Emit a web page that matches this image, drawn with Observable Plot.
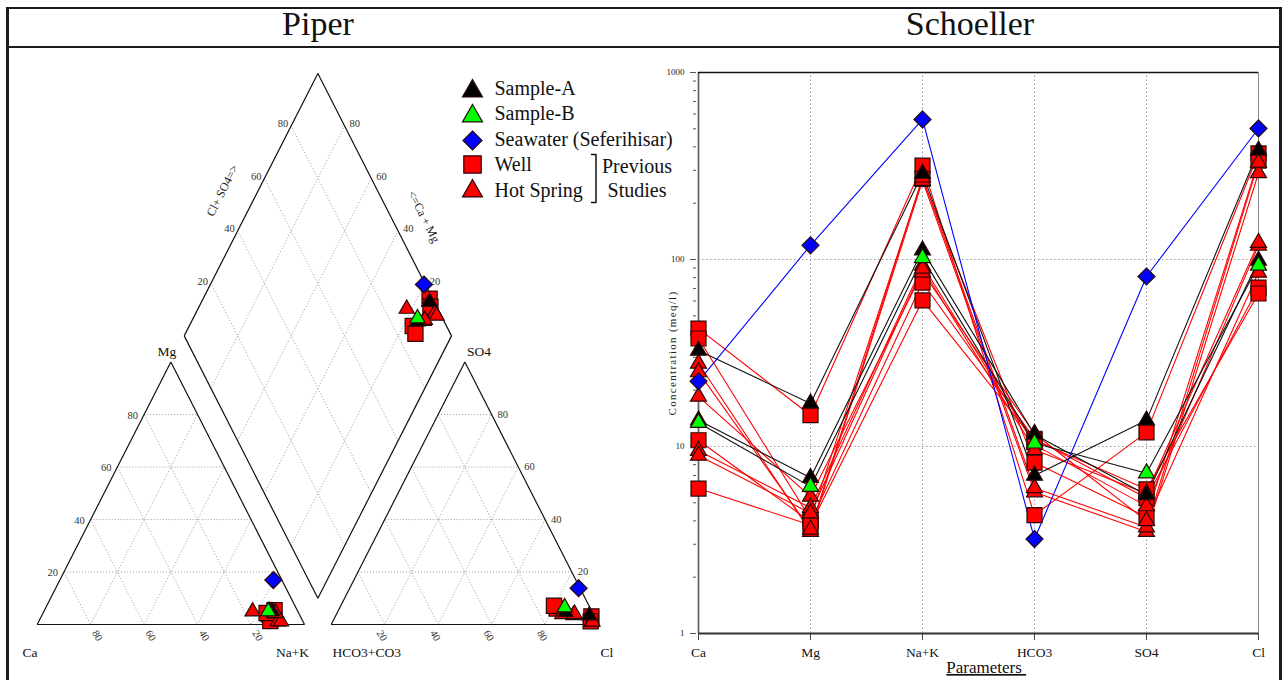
<!DOCTYPE html>
<html>
<head>
<meta charset="utf-8">
<script src="https://cdn.jsdelivr.net/npm/d3@7"></script>
<script src="https://cdn.jsdelivr.net/npm/@observablehq/plot@0.6"></script>
<style>
html, body { margin: 0; padding: 0; background: #fff; width: 1288px; height: 680px; overflow: hidden; }
.bar { position: absolute; background: #1a1a1a; }
.title { position: absolute; font-family: "Liberation Serif", "Times New Roman", serif; font-size: 34px; line-height: 34px; white-space: nowrap; transform: translateX(-50%); color: #111; }
#piper, #schoeller { position: absolute; top: 0; }
#piper { left: 0; }
#schoeller { left: 640px; }
</style>
</head>
<body>
<div class="bar" style="left:6px;top:7px;width:1276px;height:2px"></div>
<div class="bar" style="left:6px;top:46px;width:1276px;height:2px"></div>
<div class="bar" style="left:6px;top:7px;width:3px;height:673px"></div>
<div class="bar" style="left:1279px;top:7px;width:3px;height:673px"></div>
<div class="title" style="left:318px;top:7px">Piper</div>
<div class="title" style="left:970px;top:7px">Schoeller</div>
<div id="piper"></div>
<div id="schoeller"></div>
<script>
// ---------------- DATA (meq/l) ----------------
const parameters = ["Ca", "Mg", "Na+K", "HCO3", "SO4", "Cl"];
const seriesNames = ["Sample-A", "Sample-B", "Seawater (Seferihisar)", "Well", "Hot Spring"];
const sampleA = [
  [32.6, 17.0, 288, 7.0, 13.8, 383],
  [13.8, 6.8, 112, 11.6, 5.5, 98.8]
];
const sampleB = [
  [13.4, 6.1, 102, 10.4, 7.2, 92.9]
];
const seawater = [
  [22.3, 119, 561, 3.2, 81.1, 502]
];
const wells = [
  [42.7, 14.7, 318, 4.3, 11.9, 369],
  [37.8, 4.1, 270, 8.2, 4.2, 338],
  [10.8, 3.95, 75.3, 11.0, 5.3, 70.8],
  [5.96, 3.8, 60.4, 10.8, 5.9, 65.8]
];
const hotSprings = [
  [27.8, 3.5, 264, 5.7, 3.5, 290],
  [25.0, 3.6, 275, 6.0, 3.7, 330],
  [18.5, 5.4, 85.2, 11.7, 4.0, 85.2],
  [9.5, 4.7, 92.9, 10.2, 4.8, 119],
  [8.95, 4.4, 89.5, 9.6, 5.6, 123]
];
const gridPercents = [20, 40, 60, 80];
const majorTicks = [1, 10, 100, 1000];
const bracketWords = ["Previous", "Studies"];
const piperCorners = {left: ["Ca", "Mg", "Na+K"], right: ["HCO3+CO3", "SO4", "Cl"]};
const diamondTitles = ["Cl+ SO4=>", "<=Ca + Mg"];
const schoellerLabels = {x: "Parameters\u00a0", y: "Concentration (meq/l)"};

// ---------------- STYLE ----------------
const FONT = "Liberation Serif, Times New Roman, serif";
const groups = [
  {name: seriesNames[0], rows: sampleA, fill: "#000000", line: "#111111", shape: "triangle"},
  {name: seriesNames[1], rows: sampleB, fill: "#00ff00", line: "#111111", shape: "triangle"},
  {name: seriesNames[2], rows: seawater, fill: "#0000ff", line: "#0000ff", shape: "diamond"},
  {name: seriesNames[3], rows: wells, fill: "#ff0000", line: "#ff0000", shape: "square"},
  {name: seriesNames[4], rows: hotSprings, fill: "#ff0000", line: "#ff0000", shape: "triangle"}
];
const drawOrder = [3, 4, 0, 1, 2];
const lineOrder = [3, 4, 0, 1, 2];
const rFrom = s => Math.sqrt(s / Math.PI);
const SYM = {
  triangle: {draw(ctx, size) { const r = rFrom(size), h = 1.75 * r; ctx.moveTo(0, -2 * h / 3); ctx.lineTo(r, h / 3); ctx.lineTo(-r, h / 3); ctx.closePath(); }},
  square: {draw(ctx, size) { const r = rFrom(size); ctx.moveTo(-r, -r); ctx.lineTo(r, -r); ctx.lineTo(r, r); ctx.lineTo(-r, r); ctx.closePath(); }},
  diamond: {draw(ctx, size) { const r = rFrom(size); ctx.moveTo(0, -r); ctx.lineTo(r, 0); ctx.lineTo(0, r); ctx.lineTo(-r, 0); ctx.closePath(); }}
};
const markerSize = {triangle: 8, square: 7.5, diamond: 8.5};
const piperSize = {triangle: 7.6, square: 7.6, diamond: 8.5};
const legendSize = {triangle: 10, square: 8.7, diamond: 9.5};
const MSTROKE = "#2a0808";

// ---------------- PIPER ----------------
const X0 = 36.7, SX = 2.673, Y0 = 624, SY = 3.03, GAP = 10, TH = 50 * Math.sqrt(3);
const Lp = (ca, mg, na) => [100 * na + 50 * mg, TH * mg];
const Rp = (hc, so, cl) => [100 + GAP + 100 * cl + 50 * so, TH * so];
const BX = 100 + GAP / 2, BY = GAP * Math.sqrt(3) / 2;
const Dp = (a, c) => [BX + 50 * a - 50 * c, BY + TH * (a + c)];
const off = (p, dx, dy) => [p[0] + dx / SX, p[1] - dy / SY];
const ax = px => (px - X0) / SX, ay = py => (Y0 - py) / SY;
const seg = (p, q) => ({x1: p[0], y1: p[1], x2: q[0], y2: q[1]});
const ks = gridPercents.map(p => p / 100);

const edges = [
  seg(Lp(1,0,0), Lp(0,0,1)), seg(Lp(0,0,1), Lp(0,1,0)), seg(Lp(0,1,0), Lp(1,0,0)),
  seg(Rp(1,0,0), Rp(0,0,1)), seg(Rp(0,0,1), Rp(0,1,0)), seg(Rp(0,1,0), Rp(1,0,0)),
  seg(Dp(0,0), Dp(1,0)), seg(Dp(1,0), Dp(1,1)), seg(Dp(1,1), Dp(0,1)), seg(Dp(0,1), Dp(0,0))
];
const grid = ks.flatMap(k => [
  seg(Lp(1-k,k,0), Lp(0,k,1-k)), seg(Lp(k,1-k,0), Lp(k,0,1-k)), seg(Lp(1-k,0,k), Lp(0,1-k,k)),
  seg(Rp(1-k,k,0), Rp(0,k,1-k)), seg(Rp(k,1-k,0), Rp(k,0,1-k)), seg(Rp(1-k,0,k), Rp(0,1-k,k)),
  seg(Dp(k,0), Dp(k,1)), seg(Dp(0,k), Dp(1,k))
]);
const pt = (p, text) => ({x: p[0], y: p[1], text});
const lblEnd = [
  ...gridPercents.map(p => pt(off(Lp(1-p/100, p/100, 0), -6, 1), String(p))),
  ...gridPercents.map(p => pt(off(Dp(p/100, 1), -3, -2), String(p)))
];
const lblStart = [
  ...gridPercents.map(p => pt(off(Rp(0, p/100, 1-p/100), 6, 0), String(p))),
  ...gridPercents.map(p => pt(off(Dp(1, p/100), 5, -2), String(p)))
];
const lblRot = [
  ...gridPercents.map(p => pt(off(Lp(p/100, 0, 1-p/100), 4, 6.5), String(p))),
  ...gridPercents.map(p => pt(off(Rp(1-p/100, 0, p/100), -5.5, 6.5), String(p)))
];
const cornerStart = [
  pt(off(Lp(1,0,0), -14.7, 28), piperCorners.left[0]),
  pt(off(Rp(1,0,0), 1.3, 28), piperCorners.right[0]),
  pt(off(Rp(0,0,1), 2, 28), piperCorners.right[2])
];
const cornerMid = [
  pt(off(Lp(0,1,0), -4, -10), piperCorners.left[1]),
  pt(off(Lp(0,0,1), -12, 28), piperCorners.left[2]),
  pt(off(Rp(0,1,0), 14, -10), piperCorners.right[1])
];

function piperPoints(row) {
  const [ca, mg, na, hc, so, cl] = row;
  const ct = ca + mg + na, at = hc + so + cl;
  const c = [ca / ct, mg / ct, na / ct], a = [hc / at, so / at, cl / at];
  return [Lp(...c), Rp(...a), Dp(a[1] + a[2], c[0] + c[1])].map(p => ({x: p[0], y: p[1]}));
}

const legendRows = seriesNames.map((name, i) => ({name, i, sy: [90.6, 115.6, 140, 164, 190.6][i], by: 94 + 25.5 * i}));
const legendDots = legendRows.map(d => ({...d, x: ax(472), y: ay(d.sy)}));
const legendText = legendRows.map(d => ({x: ax(494), y: ay(d.by - 6.4), text: d.name}));
const bTop = legendRows[3].by - 16.5, bBot = legendRows[4].by + 6;
const bracket = [[591, bTop], [595.5, bTop], [595.5, bBot], [591, bBot]].map(([px, py]) => ({x: ax(px), y: ay(py)}));
const bracketText = bracketWords.map((w, i) => ({x: ax(636.5), y: ay(172 + 24 * i - 6.4), text: w}));

const piperMarks = [
  Plot.link(grid, {x1: "x1", y1: "y1", x2: "x2", y2: "y2", stroke: "#9a9a9a", strokeWidth: 1, strokeDasharray: "1,2"}),
  Plot.link(edges, {x1: "x1", y1: "y1", x2: "x2", y2: "y2", stroke: "#111", strokeWidth: 1.2}),
  Plot.text(lblEnd, {x: "x", y: "y", text: "text", textAnchor: "end", fontSize: 10.5, fontFamily: FONT, fill: "#333"}),
  Plot.text(lblStart, {x: "x", y: "y", text: "text", textAnchor: "start", fontSize: 10.5, fontFamily: FONT, fill: "#333"}),
  Plot.text(lblRot, {x: "x", y: "y", text: "text", textAnchor: "start", rotate: 60, fontSize: 10.5, fontFamily: FONT, fill: "#333"}),
  Plot.text(cornerStart, {x: "x", y: "y", text: "text", textAnchor: "start", fontSize: 13.5, fontFamily: FONT, fill: "#111"}),
  Plot.text(cornerMid, {x: "x", y: "y", text: "text", textAnchor: "middle", fontSize: 13.5, fontFamily: FONT, fill: "#111"}),
  Plot.text([pt(off(Dp(0.5, 1), -28.5, -14), diamondTitles[0])], {x: "x", y: "y", text: "text", rotate: -63, fontSize: 12, fontFamily: FONT, fill: "#222"}),
  Plot.text([pt(off(Dp(1, 0.5), 39, 12), diamondTitles[1])], {x: "x", y: "y", text: "text", rotate: 63, fontSize: 12, fontFamily: FONT, fill: "#222"}),
  ...drawOrder.map(gi => {
    const g = groups[gi];
    return Plot.dot(g.rows.flatMap(piperPoints), {x: "x", y: "y", symbol: SYM[g.shape], r: piperSize[g.shape], fill: g.fill, stroke: MSTROKE, strokeWidth: 1.2});
  }),
  ...legendDots.map(d => Plot.dot([d], {x: "x", y: "y", symbol: SYM[groups[d.i].shape], r: legendSize[groups[d.i].shape], fill: groups[d.i].fill, stroke: MSTROKE, strokeWidth: 1.2})),
  Plot.text(legendText, {x: "x", y: "y", text: "text", textAnchor: "start", fontSize: 20, fontFamily: FONT, fill: "#111"}),
  Plot.line(bracket, {x: "x", y: "y", stroke: "#111", strokeWidth: 1.5}),
  Plot.text(bracketText, {x: "x", y: "y", text: "text", textAnchor: "middle", fontSize: 20, fontFamily: FONT, fill: "#111"})
];

const piper = Plot.plot({
  width: 700, height: 680, margin: 0,
  x: {domain: [0, 210], range: [X0, X0 + 210 * SX], axis: null},
  y: {domain: [0, 190], range: [Y0, Y0 - 190 * SY], axis: null},
  style: {background: "transparent", overflow: "visible", fontFamily: FONT},
  marks: piperMarks
});
document.getElementById("piper").append(piper);

// ---------------- SCHOELLER ----------------
const long = [];
groups.forEach((g, gi) => g.rows.forEach((row, si) => row.forEach((v, j) => long.push({gi, id: gi + "-" + si, param: parameters[j], value: v}))));
const minorTicks = [];
[1, 10, 100].forEach(d => { for (let m = 2; m <= 9; m++) minorTicks.push(d * m); });
const DOT = "#9a9a9a";

const schMarks = [
  Plot.ruleY([10, 100], {x1: () => parameters[0], x2: () => parameters[parameters.length - 1], stroke: DOT, strokeDasharray: "1.5,2.5"}),
  Plot.ruleX(parameters.slice(1, -1), {y1: 1, y2: 1000, stroke: DOT, strokeDasharray: "1.5,2.5"}),
  Plot.ruleX([parameters[parameters.length - 1]], {y1: 1, y2: 1000, stroke: "#888", strokeWidth: 1}),
  Plot.ruleX([parameters[0]], {y1: 1, y2: 1000, stroke: "#666", strokeWidth: 1.8}),
  Plot.ruleY([1000], {x1: () => parameters[0], x2: () => parameters[parameters.length - 1], stroke: "#111", strokeWidth: 1.5}),
  Plot.ruleY([1], {x1: () => parameters[0], x2: () => parameters[parameters.length - 1], stroke: "#333", strokeWidth: 2}),
  Plot.axisY({ticks: minorTicks, tickSize: 3, tickFormat: () => "", label: null, stroke: "#555"}),
  Plot.axisY({ticks: majorTicks, tickSize: 6, tickPadding: 6, tickFormat: d => String(d), label: null, fontSize: 9, fontFamily: FONT, stroke: "#555", fill: "#222"}),
  Plot.axisX({ticks: parameters, tickSize: 7, tickPadding: 7.4, label: null, fontSize: 13.5, fontFamily: FONT, stroke: "#444", fill: "#111"}),
  ...lineOrder.map(gi => Plot.line(long.filter(d => d.gi === gi), {x: "param", y: "value", z: "id", stroke: groups[gi].line, strokeWidth: 1.1})),
  ...drawOrder.map(gi => {
    const g = groups[gi];
    return Plot.dot(long.filter(d => d.gi === gi), {x: "param", y: "value", symbol: SYM[g.shape], r: markerSize[g.shape], fill: g.fill, stroke: MSTROKE, strokeWidth: 1.2});
  }),
  Plot.text([schoellerLabels.y], {text: d => d, frameAnchor: "left", textAnchor: "middle", lineAnchor: "middle", dx: -24, rotate: -90, fontSize: 11, fontFamily: FONT, fill: "#222"}),
  Plot.text([schoellerLabels.x], {text: d => d, frameAnchor: "bottom", textAnchor: "middle", lineAnchor: "middle", dx: 8, dy: 34, fontSize: 17, fontFamily: FONT, fill: "#111"})
];

const sch = Plot.plot({
  width: 648, height: 680,
  marginLeft: 56, marginRight: 28.5, marginTop: 72, marginBottom: 47,
  x: {type: "point", domain: parameters, padding: 0, label: null},
  y: {type: "log", domain: [1, 1000], label: null},
  style: {background: "transparent", overflow: "visible", fontFamily: FONT},
  marks: schMarks
});
sch.querySelectorAll("text").forEach(t => {
  if (t.textContent.startsWith("Concentration")) t.style.letterSpacing = "1.3px";
  if (t.textContent.startsWith("Parameters")) t.style.textDecoration = "underline";
});
document.getElementById("schoeller").append(sch);
</script>
</body>
</html>
